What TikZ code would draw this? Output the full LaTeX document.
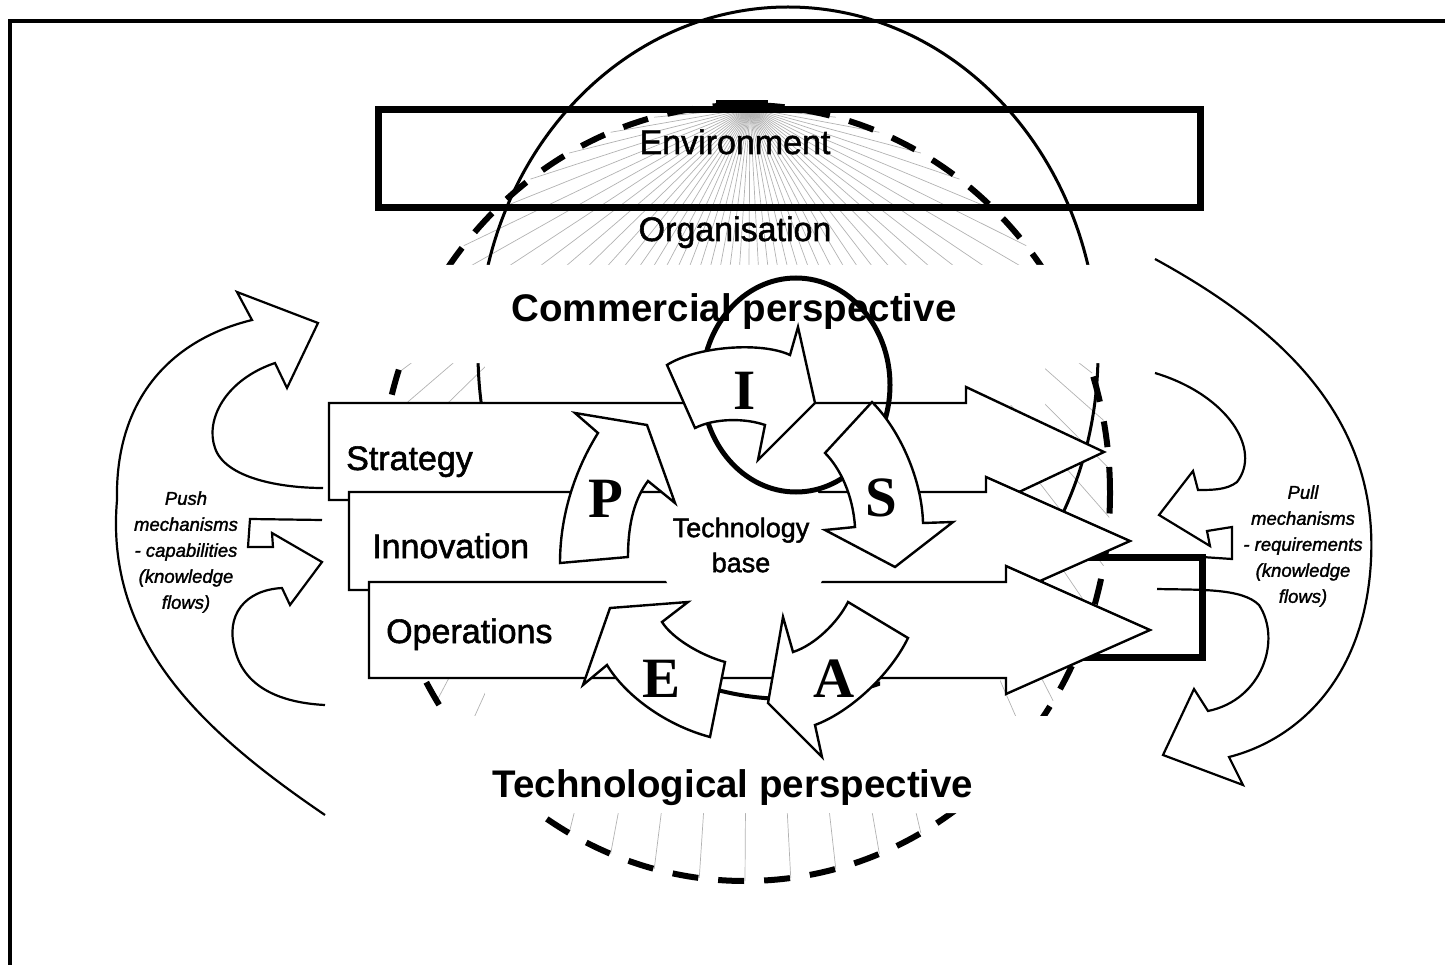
\documentclass[tikz,border=0pt]{standalone}
\usepackage{fontspec}
\setmainfont{Liberation Sans}
\newfontfamily\heavyfont[FakeBold=1.6]{Liberation Sans}
\newfontfamily\lettfont{Liberation Serif}
\begin{document}
\begin{tikzpicture}[x=1pt,y=-1pt,
  ray/.style={draw=black!30, line width=0.7pt},
  orgline/.style={draw=black, line width=6pt, dash pattern=on 26pt off 20pt},
  blockarrow/.style={draw=black, fill=white, line width=2.4pt, line join=miter},
  pcurve/.style={draw=black, fill=white, line width=2.4pt, line join=miter},
  mech/.style={draw=black, line width=2.2pt, line join=miter},
  letter/.style={font=\lettfont\bfseries\fontsize{57}{57}\selectfont, inner sep=0pt},
  bigtxt/.style={font=\heavyfont\fontsize{34}{40}\selectfont, inner sep=0pt, anchor=base},
  persp/.style={font=\bfseries\fontsize{38.5}{44}\selectfont, inner sep=0pt, anchor=base},
  flowtxt/.style={font=\heavyfont\fontsize{34}{40}\selectfont, inner sep=0pt, anchor=base west},
  mechtxt/.style={font=\heavyfont\itshape\fontsize{18.5}{26}\selectfont, inner sep=0pt, align=center}
]
\useasboundingbox (0,0) rectangle (1445,965);
% radial rays of the organisation
\foreach \k in {1,...,49}{
  \draw[ray] (750,108) -- ({745+365*cos(90+7.2*\k)},{493-388*sin(90+7.2*\k)});
}
% organisation boundary (dashed) and top tab
\draw[orgline] (745,493) ellipse [x radius=365pt, y radius=388pt];
\fill (716,100) rectangle (768,111);
% large solid ellipse
\draw[line width=3pt] (788,353) ellipse [x radius=310pt, y radius=346pt];
% environment box
\draw[line width=7pt] (378,110) rectangle (1200,208);
% white areas behind the perspective labels
\fill[white] (330,265) -- (1115,265) -- (1115,363) -- (1045,363) -- (1045,405)
  -- (485,405) -- (485,363) -- (330,363) -- cycle;
\fill[white] (420,716) -- (485,716) -- (485,676) -- (1000,676) -- (1000,716)
  -- (1070,716) -- (1070,813) -- (420,813) -- cycle;
% bottom of the large ellipse between E and A
\begin{scope}
  \clip (690,676) rectangle (880,716);
  \draw[line width=4pt] (788,353) ellipse [x radius=310pt, y radius=346pt];
\end{scope}
% right thick box
\draw[line width=7pt] (1040,557) rectangle (1202,657);
% strategy / innovation / operations block arrows
\draw[blockarrow] (329,403) -- (966,403) -- (966,387) -- (1104,452) -- (966,517) -- (966,500) -- (329,500) -- cycle;
\draw[blockarrow] (349,492) -- (986,492) -- (986,477) -- (1130,541) -- (986,605) -- (986,590) -- (349,590) -- cycle;
\draw[blockarrow] (369,582) -- (1006,582) -- (1006,566) -- (1150,630) -- (1006,694) -- (1006,678) -- (369,678) -- cycle;
% technology base disc
\fill[white] (744,540) circle [radius=88pt];
% small circle around I
\draw[line width=5pt] (796,385) ellipse [x radius=94pt, y radius=107pt];
% PIESA curved arrows
\draw[pcurve] (560,563) -- (628,557) .. controls (628,520) and (636,497) .. (648,481)
  -- (675,503) -- (647,425) -- (575,413) -- (598,433)
  .. controls (575,470) and (560,515) .. (560,563) -- cycle;
\draw[pcurve] (667,365) .. controls (695,347) and (760,341) .. (790,355)
  -- (798,327) -- (815,403) -- (758,460) -- (765,425)
  .. controls (745,418) and (715,418) .. (695,428) -- cycle;
\draw[pcurve] (872,402) .. controls (900,430) and (922,480) .. (923,523)
  -- (953,522) -- (895,567) -- (825,530) -- (855,527)
  .. controls (853,495) and (840,468) .. (825,453) -- cycle;
\draw[pcurve] (725,662) .. controls (700,655) and (672,638) .. (662,622)
  -- (688,602) -- (610,608) -- (583,685) -- (607,665)
  .. controls (625,695) and (665,725) .. (710,737) -- cycle;
\draw[pcurve] (848,602) .. controls (838,622) and (815,645) .. (793,652)
  -- (783,617) -- (768,703) -- (822,757) -- (815,725)
  .. controls (850,712) and (890,675) .. (908,638) -- cycle;
% letters
\node[letter] (lP) at (606,499) {P};
\node[letter] (lI) at (745,391) {I};
\node[letter] (lS) at (881,498) {S};
\node[letter] (lE) at (662,679) {E};
\node[letter] (lA) at (834,679) {A};
% labels
\node[bigtxt] (env) at (735,154) {Environment};
\node[bigtxt] (org) at (735,241) {Organisation};
\node[persp] (com) at (734,322) {Commercial perspective};
\node[persp] (tec) at (733,797) {Technological perspective};
\node[flowtxt] (str) at (346,470) {Strategy};
\node[flowtxt] (inn) at (372,558) {Innovation};
\node[flowtxt] (ope) at (386,643) {Operations};
\node[font=\heavyfont\fontsize{27}{35}\selectfont, inner sep=0pt, align=center] (tb) at (741,545) {Technology\\base};
% push mechanisms (left)
\draw[mech] (325,815) .. controls (200,730) and (105,640) .. (117,500)
  .. controls (115,400) and (170,340) .. (252,320)
  -- (237,292) -- (318,323) -- (287,388) -- (275,363)
  .. controls (225,380) and (205,420) .. (215,448)
  .. controls (225,478) and (280,488) .. (323,488);
\draw[mech] (322,520) -- (250,519) -- (248,547) -- (273,547) -- (272,533)
  -- (322,562) -- (290,605) -- (282,588)
  .. controls (245,590) and (225,615) .. (235,650)
  .. controls (245,690) and (285,703) .. (325,705);
\node[mechtxt] (push) at (186,552) {Push\\mechanisms\\- capabilities\\(knowledge\\flows)};
% pull mechanisms (right)
\draw[mech] (1155,259) .. controls (1285,330) and (1378,420) .. (1371,560)
  .. controls (1365,680) and (1296,740) .. (1229,757)
  -- (1243,785) -- (1163,755) -- (1194,689) -- (1208,711)
  .. controls (1262,700) and (1282,640) .. (1259,605)
  .. controls (1242,588) and (1200,590) .. (1157,589);
\draw[mech] (1155,373) .. controls (1228,395) and (1262,450) .. (1237,482)
  .. controls (1227,490) and (1212,490) .. (1198,490)
  -- (1193,471) -- (1159,515) -- (1210,546) -- (1207,531)
  -- (1232,527) -- (1232,559) -- (1202,557);
\node[mechtxt] (pull) at (1303,546) {Pull\\mechanisms\\- requirements\\(knowledge\\flows)};
% outer frame
\draw[line width=3.5pt] (10,965) -- (10,21) -- (1445,21);
\end{tikzpicture}
\end{document}
